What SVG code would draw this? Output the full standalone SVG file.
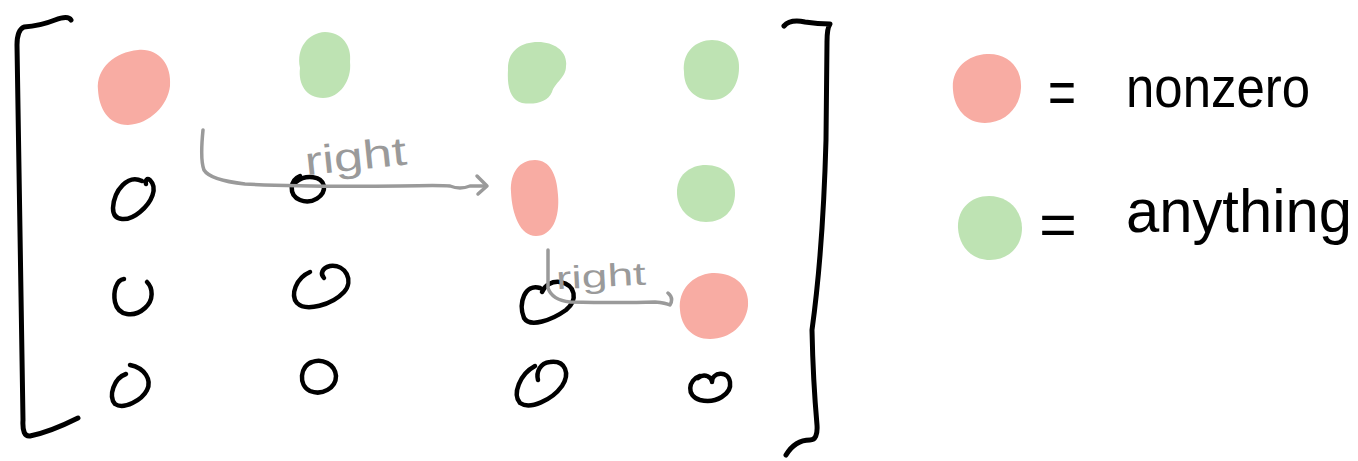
<svg xmlns="http://www.w3.org/2000/svg" width="1358" height="461" viewBox="0 0 1358 461">
<style>
.ink{fill:none;stroke:#000;stroke-width:4.5;stroke-linecap:round;stroke-linejoin:round}
.br{fill:none;stroke:#000;stroke-width:5;stroke-linecap:round;stroke-linejoin:round}
.nz{fill:#f8aca3}
.any{fill:#bee3b3}
.conn{fill:none;stroke:#9a9a9a;stroke-width:3.5;stroke-linecap:round;stroke-linejoin:round}
.lbl{font-family:"Liberation Sans","DejaVu Sans",sans-serif;fill:#9a9a9a}
.leg{font-family:"Liberation Sans","DejaVu Sans",sans-serif;fill:#000}
</style>
<rect width="1358" height="461" fill="#fff"/>
<g id="bracket-left"><path class="br" d="M71,20 Q68,15 55,20 Q40,26 24,27 Q17,30 17,45 Q19,200 23,420 Q22,437 30,436 Q50,432 78,418"/></g>
<g id="bracket-right"><path class="br" d="M784,26 Q790,19 805,22 Q818,24 830,24 Q827,28 827,42 L826,140 Q823,250 812,330 Q813,380 817,425 Q818,440 810,440 Q795,440 786,455"/></g>
<g id="r1c1"><path class="nz" d="M98,90 C96,68 115,52 138,50 C158,48 172,64 170,86 C168,105 150,124 128,125 C108,125 99,108 98,90Z"/></g>
<g id="r1c2"><path class="any" d="M300,68 C296,48 308,33 325,32 C342,32 352,46 350,62 C352,80 340,98 323,98 C306,98 298,84 300,68Z"/></g>
<g id="r1c3"><path class="any" d="M508,70 C507,52 520,42 538,42 C555,42 568,52 566,66 C566,78 555,82 552,92 C548,102 535,105 522,103 C510,100 507,86 508,70Z"/></g>
<g id="r1c4"><path class="any" d="M684,72 C682,52 696,40 712,40 C728,40 740,52 739,68 C739,84 730,100 712,100 C694,100 684,88 684,72Z"/></g>
<g id="r2c1"><path class="ink" d="M142,181 C128,174 114,190 113,208 C113,222 128,222 140,212 C152,202 158,188 150,180 C147,178 145,180 146,184"/></g>
<g id="r2c2"><path class="ink" d="M300,176 C290,180 288,195 300,200 C312,205 325,196 324,186 C322,176 306,174 296,182"/></g>
<g id="r2c3"><path class="nz" d="M511,192 C510,172 520,160 535,160 C550,160 557,175 558,195 C560,218 552,236 536,236 C520,236 512,214 511,192Z"/></g>
<g id="r2c4"><path class="any" d="M677,194 C676,175 690,165 706,165 C723,165 735,176 735,193 C735,210 724,222 706,222 C690,222 678,210 677,194Z"/></g>
<g id="r3c1"><path class="ink" d="M124,279 C116,280 113,292 115,302 C118,316 134,318 145,308 C154,300 153,288 147,282"/></g>
<g id="r3c2"><path class="ink" d="M310,272 C296,278 290,295 297,303 C306,312 332,305 344,292 C354,281 346,264 330,266 C322,268 320,274 324,278"/></g>
<g id="r3c3"><path class="ink" d="M540,288 C525,283 518,303 524,318 C530,328 552,320 566,310 C578,300 576,285 560,282 C552,281 545,285 542,292"/></g>
<g id="r3c4"><path class="nz" d="M680,310 C678,290 692,275 712,273 C735,272 750,287 748,306 C746,325 730,339 710,339 C692,339 681,326 680,310Z"/></g>
<g id="r4c1"><path class="ink" d="M126,374 C114,378 108,396 115,404 C124,410 142,400 147,390 C152,380 145,368 130,365"/></g>
<g id="r4c2"><path class="ink" d="M312,362 C300,366 298,385 310,391 C322,396 336,388 336,376 C335,364 322,358 312,362Z"/></g>
<g id="r4c3"><path class="ink" d="M535,366 C520,374 512,394 520,403 C530,410 552,400 562,386 C570,374 566,360 550,362 C540,363 536,372 538,380"/></g>
<g id="r4c4"><path class="ink" d="M700,376 C688,380 686,396 700,400 C716,404 732,394 730,382 C728,370 712,372 712,382 C712,378 705,372 698,378"/></g>
<g id="connectors">
<path class="conn" d="M203,130 Q200,160 204,170 Q210,180 245,184 Q300,187 400,186 Q440,185 450,186 Q460,190 470,186 L485,186"/>
<path class="conn" d="M477,176 L487,186 L478,194"/>
<path class="conn" d="M548,250 Q548,275 548,288 Q552,300 570,302 Q620,303 655,302 Q666,303 670,305 Q674,298 668,293"/>
</g>
<g id="labels">
<text class="lbl" x="305" y="170" font-size="40" textLength="102" lengthAdjust="spacingAndGlyphs" transform="rotate(-6 355 160)">right</text>
<text class="lbl" x="556" y="287" font-size="32" textLength="90" lengthAdjust="spacingAndGlyphs" transform="rotate(-3 600 278)">right</text>
</g>
<g id="legend-nonzero">
<path class="nz" d="M953,90 C951,70 966,55 987,54 C1008,53 1022,68 1021,88 C1020,108 1005,123 985,123 C966,123 954,108 953,90Z"/>
<text class="leg" x="1048" y="113" font-size="62" textLength="28" lengthAdjust="spacingAndGlyphs">=</text>
<text class="leg" x="1126" y="107" font-size="58" textLength="184" lengthAdjust="spacingAndGlyphs">nonzero</text>
</g>
<g id="legend-anything">
<path class="any" d="M958,228 C957,210 970,196 989,196 C1008,196 1022,210 1022,228 C1022,247 1008,260 990,260 C971,260 959,246 958,228Z"/>
<text class="leg" x="1039" y="245" font-size="60" textLength="38" lengthAdjust="spacingAndGlyphs">=</text>
<text class="leg" x="1126" y="232" font-size="62" textLength="226" lengthAdjust="spacingAndGlyphs">anything</text>
</g>
</svg>
